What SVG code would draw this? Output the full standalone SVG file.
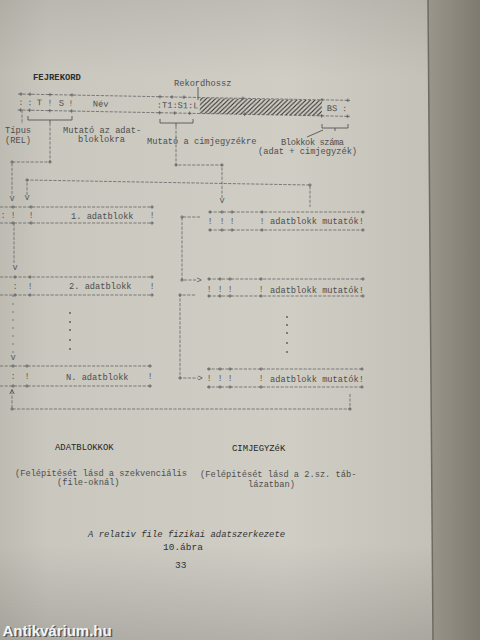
<svg xmlns="http://www.w3.org/2000/svg" xmlns:xlink="http://www.w3.org/1999/xlink" width="480" height="640" viewBox="0 0 480 640">
<defs>
<linearGradient id="paper" x1="0" y1="0" x2="1" y2="0">
<stop offset="0" stop-color="#bebcb2"/>
<stop offset="0.1" stop-color="#c9c7be"/>
<stop offset="0.6" stop-color="#cfcdc4"/>
<stop offset="0.89" stop-color="#c4c2b8"/>
</linearGradient>
<linearGradient id="vshade" x1="0" y1="0" x2="0" y2="1">
<stop offset="0" stop-color="#000" stop-opacity="0.08"/>
<stop offset="0.12" stop-color="#000" stop-opacity="0"/>
<stop offset="0.85" stop-color="#000" stop-opacity="0"/>
<stop offset="1" stop-color="#000" stop-opacity="0.14"/>
</linearGradient>
<linearGradient id="edge" x1="0" y1="0" x2="1" y2="0">
<stop offset="0" stop-color="#9a968c"/>
<stop offset="1" stop-color="#7e7a70"/>
</linearGradient>
<pattern id="hatch" width="4.5" height="4.5" patternUnits="userSpaceOnUse">
<path d="M-1,1 L1,-1 M0,4.5 L4.5,0 M3.5,5.5 L5.5,3.5" stroke="#2f2f2f" stroke-width="1.1"/>
</pattern>
<path id="pl" d="M-1.8,0H1.8M0,-1.8V1.8" stroke="#5a5a5a" stroke-width="0.8" fill="none"/>
<style>
text{font-family:"Liberation Mono","DejaVu Sans Mono",monospace;font-size:8.7px;fill:#4e4e4e}
.h{fill:#2e2e2e;font-weight:bold;font-size:8.9px}
.s{fill:#5a5a5a;text-anchor:middle}
.d{fill:none;stroke:#6a6a6a;stroke-width:0.85;stroke-dasharray:3.2 1.4}
.l{fill:none;stroke:#555;stroke-width:0.9}
.dot{fill:#555}
.cap{font-style:italic;fill:#333;font-size:8.9px}
.num{fill:#333;font-size:9.5px}
</style>
</defs>

<rect width="480" height="640" fill="url(#paper)"/>
<rect width="480" height="640" fill="url(#vshade)"/>
<polygon points="428,0 480,0 480,640 433,640" fill="url(#edge)"/>
<line x1="428" y1="0" x2="433" y2="640" stroke="#6f6b62" stroke-width="1.5"/>

<g id="fejrekord">
<text class="h" x="33" y="80">FEJREKORD</text>
<g transform="rotate(1.1 18 94)">
<path class="d" d="M18,94 H350 M18,110 H350"/>
<rect x="200" y="94.5" width="122" height="15.5" fill="url(#hatch)"/>
<use xlink:href="#pl" x="21" y="94"/><use xlink:href="#pl" x="30" y="94"/><use xlink:href="#pl" x="50" y="94"/><use xlink:href="#pl" x="72" y="94"/>
<use xlink:href="#pl" x="160" y="94"/><use xlink:href="#pl" x="172" y="94"/><use xlink:href="#pl" x="184" y="94"/><use xlink:href="#pl" x="243" y="94"/><use xlink:href="#pl" x="322" y="94"/><use xlink:href="#pl" x="348" y="94"/>
<use xlink:href="#pl" x="21" y="110"/><use xlink:href="#pl" x="30" y="110"/><use xlink:href="#pl" x="50" y="110"/><use xlink:href="#pl" x="72" y="110"/>
<use xlink:href="#pl" x="160" y="110"/><use xlink:href="#pl" x="175" y="110"/><use xlink:href="#pl" x="190" y="110"/><use xlink:href="#pl" x="245" y="110"/><use xlink:href="#pl" x="322" y="110"/><use xlink:href="#pl" x="348" y="110"/>
<text class="s" x="21" y="105">:</text><text class="s" x="30" y="105">:</text>
<text x="37" y="105">T</text><text class="s" x="50" y="105">!</text>
<text x="59" y="105">S</text><text class="s" x="71" y="105">!</text>
<text x="93" y="105">Név</text>
<text x="157" y="105">:T1:S1:L</text>
<text x="327" y="105">BS</text><text class="s" x="345" y="105">:</text>
</g>
</g>

<g id="labels">
<text x="174" y="86">Rekordhossz</text>
<text x="5" y="133">Típus</text>
<text x="5" y="143">(REL)</text>
<text x="63" y="133">Mutató az adat-</text>
<text x="78" y="142">bloklokra</text>
<text x="147" y="144">Mutató a cimjegyzékre</text>
<text x="281" y="145" textLength="63">Blokkok száma</text>
<text x="258" y="154">(adat + cimjegyzék)</text>
</g>

<g id="adatblokk1">
<path class="d" d="M0,207 H153 M0,223 H153"/>
<use xlink:href="#pl" x="13" y="207"/><use xlink:href="#pl" x="31" y="207"/><use xlink:href="#pl" x="152" y="207"/>
<use xlink:href="#pl" x="13" y="223"/><use xlink:href="#pl" x="31" y="223"/><use xlink:href="#pl" x="152" y="223"/>
<text class="s" x="3" y="218">:</text><text class="s" x="13" y="218">!</text><text class="s" x="31" y="218">!</text><text class="s" x="152" y="218">!</text>
<text x="71" y="219">1. adatblokk</text>
</g>

<g id="adatblokk2">
<path class="d" d="M0,277 H153 M0,295 H153"/>
<use xlink:href="#pl" x="15" y="277"/><use xlink:href="#pl" x="30" y="277"/><use xlink:href="#pl" x="152" y="277"/>
<use xlink:href="#pl" x="15" y="295"/><use xlink:href="#pl" x="30" y="295"/><use xlink:href="#pl" x="152" y="295"/>
<text class="s" x="15" y="289">:</text><text class="s" x="30" y="289">!</text><text class="s" x="152" y="289">!</text>
<text x="69" y="289">2. adatblokk</text>
</g>

<g id="dots-left">
<circle class="dot" cx="70" cy="313" r="0.9"/><circle class="dot" cx="70" cy="322" r="0.9"/><circle class="dot" cx="70" cy="330" r="0.9"/><circle class="dot" cx="70" cy="340" r="0.9"/><circle class="dot" cx="70" cy="349" r="0.9"/>
</g>

<g id="adatblokkN">
<path class="d" d="M0,366 H152 M0,386 H152"/>
<use xlink:href="#pl" x="13" y="366"/><use xlink:href="#pl" x="27" y="366"/><use xlink:href="#pl" x="150" y="366"/>
<use xlink:href="#pl" x="13" y="386"/><use xlink:href="#pl" x="27" y="386"/><use xlink:href="#pl" x="150" y="386"/>
<text class="s" x="13" y="379">:</text><text class="s" x="27" y="379">!</text><text class="s" x="150" y="379">!</text>
<text x="66" y="380">N. adatblokk</text>
</g>

<g id="mutatok1">
<path class="d" d="M209,212 H363 M209,230 H363"/>
<use xlink:href="#pl" x="210" y="212"/><use xlink:href="#pl" x="222" y="212"/><use xlink:href="#pl" x="232" y="212"/><use xlink:href="#pl" x="262" y="212"/><use xlink:href="#pl" x="363" y="212"/>
<use xlink:href="#pl" x="210" y="230"/><use xlink:href="#pl" x="222" y="230"/><use xlink:href="#pl" x="232" y="230"/><use xlink:href="#pl" x="262" y="230"/><use xlink:href="#pl" x="363" y="230"/>
<text class="s" x="210" y="224">!</text><text class="s" x="222" y="224">!</text><text class="s" x="232" y="224">!</text><text class="s" x="262" y="224">!</text>
<text x="270" y="224">adatblokk mutatók!</text>
</g>

<g id="mutatok2">
<path class="d" d="M208,279 H363 M208,296 H363"/>
<use xlink:href="#pl" x="209" y="279"/><use xlink:href="#pl" x="220" y="279"/><use xlink:href="#pl" x="230" y="279"/><use xlink:href="#pl" x="261" y="279"/><use xlink:href="#pl" x="363" y="279"/>
<use xlink:href="#pl" x="209" y="296"/><use xlink:href="#pl" x="220" y="296"/><use xlink:href="#pl" x="230" y="296"/><use xlink:href="#pl" x="261" y="296"/><use xlink:href="#pl" x="363" y="296"/>
<text class="s" x="209" y="292">!</text><text class="s" x="220" y="292">!</text><text class="s" x="230" y="292">!</text><text class="s" x="261" y="292">!</text>
<text x="270" y="293">adatblokk mutatók!</text>
</g>

<g id="dots-right">
<circle class="dot" cx="287" cy="317" r="0.9"/><circle class="dot" cx="287" cy="325" r="0.9"/><circle class="dot" cx="287" cy="333" r="0.9"/><circle class="dot" cx="287" cy="343" r="0.9"/><circle class="dot" cx="287" cy="352" r="0.9"/>
</g>

<g id="mutatokN">
<path class="d" d="M207,369 H362 M207,387 H362"/>
<use xlink:href="#pl" x="209" y="369"/><use xlink:href="#pl" x="220" y="369"/><use xlink:href="#pl" x="230" y="369"/><use xlink:href="#pl" x="261" y="369"/><use xlink:href="#pl" x="362" y="369"/>
<use xlink:href="#pl" x="209" y="387"/><use xlink:href="#pl" x="220" y="387"/><use xlink:href="#pl" x="230" y="387"/><use xlink:href="#pl" x="261" y="387"/><use xlink:href="#pl" x="362" y="387"/>
<text class="s" x="209" y="381">!</text><text class="s" x="220" y="381">!</text><text class="s" x="230" y="381">!</text><text class="s" x="261" y="381">!</text>
<text x="270" y="382">adatblokk mutatók!</text>
</g>

<g id="connectors">
<path class="l" d="M198,87 V100"/>
<path class="d" d="M22,110 V124"/>
<path class="l" d="M28,116 V120 H72 V116 M50,120 V123"/>
<path class="l" d="M160,119 V123 H193 V119 M176,123 V126"/>
<path class="l" d="M322,124 V128 H348 V124 M335,128 V131 M323,130 L307,137"/>
<path class="d" d="M50,123 V162 H12 V196"/>
<path class="d" d="M176,126 V165 H222 V198"/>
<path class="d" d="M27,195 V180 L310,185 V207"/>
<path class="d" d="M14,223 V264"/>
<path class="d" d="M13,295 V354" style="stroke-dasharray:2 6"/>
<path class="d" d="M12,391 V409 H350 V394"/>
<path class="l" d="M9.8,394 L12,389.5 L14.2,394"/>
<path class="d" d="M200,217 H182 V280 H197"/>
<path class="d" d="M195,295 H180 V378 H198"/>
<use xlink:href="#pl" x="50" y="162"/><use xlink:href="#pl" x="12" y="162"/>
<use xlink:href="#pl" x="176" y="165"/><use xlink:href="#pl" x="222" y="165"/>
<use xlink:href="#pl" x="27" y="180"/><use xlink:href="#pl" x="310" y="185"/>
<use xlink:href="#pl" x="182" y="217"/><use xlink:href="#pl" x="182" y="280"/>
<use xlink:href="#pl" x="180" y="295"/><use xlink:href="#pl" x="180" y="378"/>
<use xlink:href="#pl" x="12" y="409"/><use xlink:href="#pl" x="350" y="409"/>
<text class="s" x="12" y="201">v</text>
<text class="s" x="27" y="200">v</text>
<text class="s" x="222" y="203">v</text>
<text class="s" x="15" y="270">v</text>
<text class="s" x="13" y="360">v</text>
<text class="s" x="199" y="283">&gt;</text>
<text class="s" x="200" y="381">&gt;</text>
</g>

<g id="legend">
<text class="h" x="55" y="450" style="font-weight:normal;fill:#262626">ADATBLOKKOK</text>
<text class="h" x="232" y="451" style="font-weight:normal;fill:#262626">CIMJEGYZéK</text>
<text x="15" y="476">(Felépitését lásd a szekvenciális</text>
<text x="57" y="485">(file-oknál)</text>
<text x="200" y="477">(Felépitését lásd a 2.sz. táb-</text>
<text x="248" y="487">lázatban)</text>
<text class="cap" x="88" y="537">A relativ file fizikai adatszerkezete</text>
<text class="num" x="163" y="550">10.ábra</text>
<text class="num" x="175" y="568">33</text>
</g>

<g id="watermark">
<text x="4" y="637" style="font-family:'Liberation Sans',Arial,sans-serif;font-weight:bold;font-size:15px;fill:#222;opacity:0.6">Antikvárium.hu</text>
<text x="2.5" y="635.5" style="font-family:'Liberation Sans',Arial,sans-serif;font-weight:bold;font-size:15px;fill:#f4f4f2">Antikvárium.hu</text>
</g>
</svg>
